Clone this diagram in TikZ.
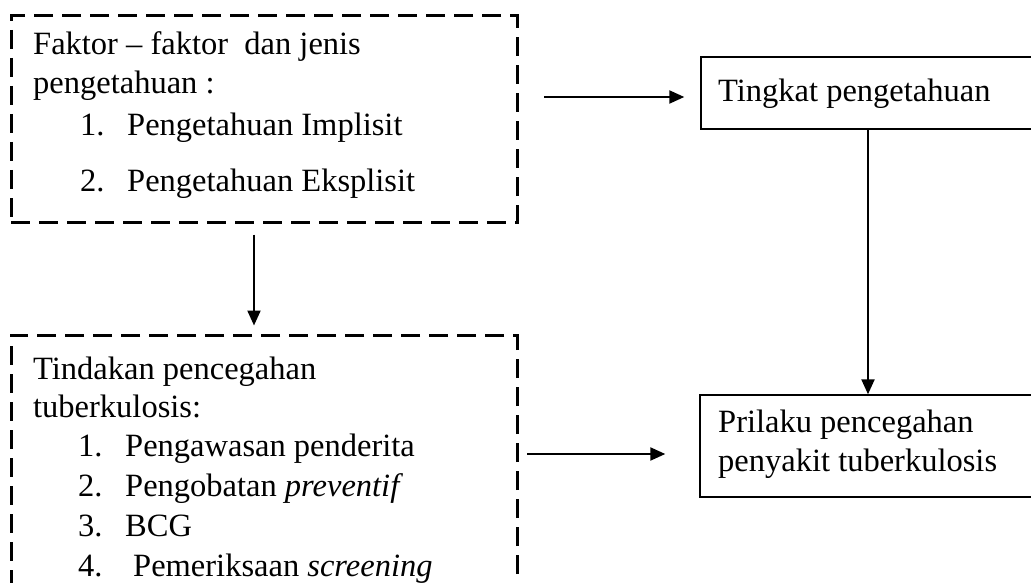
\documentclass[tikz,border=0pt]{standalone}
\usepackage{fontspec}
\setmainfont{Liberation Serif}
\usetikzlibrary{arrows.meta}
\begin{document}
\begin{tikzpicture}[x=1pt,y=-1pt,
  dbox/.style={draw, line width=3pt, dash pattern=on 19pt off 9pt, rectangle, inner sep=0pt},
  sbox/.style={draw, line width=1.4pt, rectangle, inner sep=0pt},
  txt/.style={anchor=base west, inner sep=0pt, font=\fontsize{32.5}{38}\selectfont},
  arr/.style={line width=2.2pt, -{Triangle[length=15pt,width=13pt]}}
]
\clip (0,0) rectangle (1031,583);
\fill[white] (0,0) rectangle (1031,583);
% boxes
\node[dbox, minimum width=506pt, minimum height=206pt] (b1) at (264,119) {};
\node[dbox, minimum width=506pt, minimum height=265pt] (b2) at (264,467.5) {};
\node[sbox, minimum width=339pt, minimum height=72pt] (tk) at (870.5,93) {};
\node[sbox, minimum width=340pt, minimum height=102pt] (pr) at (870,446) {};
% texts box 1
\node[txt] (t11) at (33,55) {Faktor – faktor\ \ dan jenis};
\node[txt] (t12) at (33,94) {pengetahuan :};
\node[txt] (t13n) at (80,136) {1.};
\node[txt] (t13) at (127,136) {Pengetahuan Implisit};
\node[txt] (t14n) at (80,192) {2.};
\node[txt] (t14) at (127,192) {Pengetahuan Eksplisit};
% texts box 2
\node[txt] (t21) at (33,379) {Tindakan pencegahan};
\node[txt] (t22) at (33,417) {tuberkulosis:};
\node[txt] (t23n) at (78,456) {1.};
\node[txt] (t23) at (125,456) {Pengawasan penderita};
\node[txt] (t24n) at (78,496) {2.};
\node[txt] (t24) at (125,496) {Pengobatan \textit{preventif}};
\node[txt] (t25n) at (78,536) {3.};
\node[txt] (t25) at (125,536) {BCG};
\node[txt] (t26n) at (78,576) {4.};
\node[txt] (t26) at (133,576) {Pemeriksaan \textit{screening}};
% right texts
\node[txt] (tkt) at (718,102) {Tingkat pengetahuan};
\node[txt] (prt1) at (718,432) {Prilaku pencegahan};
\node[txt] (prt2) at (718,471) {penyakit tuberkulosis};
% connectors
\coordinate (a1s) at (544,97);
\draw[arr, shorten >=16pt] (a1s) -- (a1s -| tk.west);
\coordinate (a2x) at (254,0);
\draw[arr, shorten <=11pt, shorten >=8pt] (b1.south -| a2x) -- (b2.north -| a2x);
\coordinate (a3x) at (868,0);
\draw[arr] (tk.south -| a3x) -- (pr.north -| a3x);
\coordinate (a4s) at (527,454);
\draw[arr, shorten >=34pt] (a4s) -- (a4s -| pr.west);
\end{tikzpicture}
\end{document}
